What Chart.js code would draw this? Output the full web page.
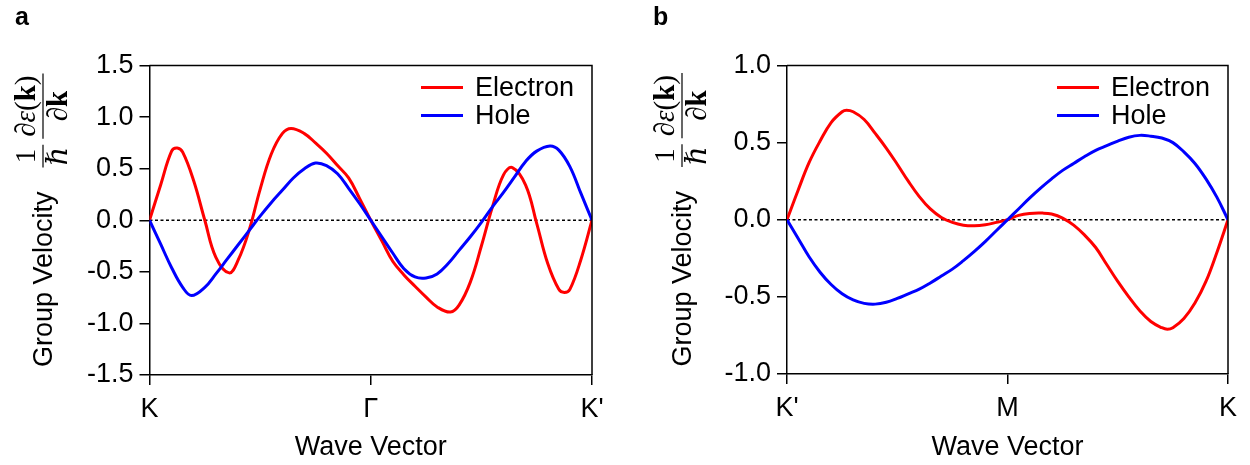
<!DOCTYPE html>
<html>
<head>
<meta charset="utf-8">
<script src="https://cdn.jsdelivr.net/npm/chart.js@4.4.1/dist/chart.umd.min.js"></script>
<style>
  html, body { margin: 0; padding: 0; background: #fff; }
  #wrap { position: relative; width: 1250px; height: 465px; }
  canvas { position: absolute; top: 0; }
  #panelA { left: 0; }
  #panelB { left: 625px; }
</style>
</head>
<body>
<div id="wrap">
  <canvas id="panelA" width="625" height="465"></canvas>
  <canvas id="panelB" width="625" height="465"></canvas>
</div>
<script>
// panel a: K - Gamma - K'  (x in units of path segments, 0..2)
var aTickLabels = ['K', 'Γ', "K'"];
var aElecK = [0, 0.05, 0.10, 0.125, 0.15, 0.20, 0.25, 0.30, 0.36, 0.40, 0.45, 0.50, 0.55, 0.60, 0.64, 0.70, 0.75, 0.80, 0.85, 0.90, 0.95, 1.00,
              1.05, 1.10, 1.15, 1.20, 1.25, 1.30, 1.36, 1.40, 1.45, 1.50, 1.55, 1.60, 1.64, 1.70, 1.75, 1.80, 1.85, 1.875, 1.90, 1.95, 2.00];
var aElecV = [0, 0.34, 0.67, 0.70, 0.66, 0.38, 0.0, -0.36, -0.51, -0.39, -0.10, 0.30, 0.64, 0.84, 0.89, 0.84, 0.75, 0.65, 0.53, 0.41, 0.21, 0,
              -0.20, -0.40, -0.53, -0.64, -0.745, -0.84, -0.89, -0.82, -0.60, -0.25, 0.13, 0.44, 0.51, 0.34, -0.03, -0.42, -0.67, -0.70, -0.67, -0.38, 0];
var aHoleK = [0, 0.05, 0.10, 0.15, 0.19, 0.25, 0.30, 0.35, 0.40, 0.45, 0.50, 0.55, 0.60, 0.65, 0.70, 0.75, 0.80, 0.85, 0.90, 0.95, 1.00,
              1.05, 1.10, 1.15, 1.20, 1.25, 1.30, 1.35, 1.40, 1.45, 1.50, 1.55, 1.60, 1.65, 1.70, 1.75, 1.81, 1.85, 1.90, 1.95, 2.00];
var aHoleV = [0, -0.23, -0.46, -0.65, -0.73, -0.65, -0.52, -0.38, -0.24, -0.10, 0.04, 0.17, 0.29, 0.41, 0.50, 0.555, 0.53, 0.45, 0.31, 0.16, 0,
              -0.16, -0.32, -0.47, -0.55, -0.56, -0.52, -0.42, -0.29, -0.16, -0.02, 0.13, 0.27, 0.42, 0.57, 0.67, 0.72, 0.68, 0.52, 0.26, 0];

// panel b: K' - M - K
var bTickLabels = ["K'", 'M', 'K'];
var bElecK = [0, 0.05, 0.10, 0.15, 0.20, 0.25, 0.27, 0.30, 0.35, 0.40, 0.45, 0.50, 0.55, 0.60, 0.65, 0.70, 0.75, 0.80, 0.85, 0.90, 0.95, 1.00,
              1.05, 1.10, 1.16, 1.20, 1.25, 1.30, 1.35, 1.40, 1.45, 1.50, 1.55, 1.60, 1.65, 1.70, 1.725, 1.75, 1.80, 1.85, 1.90, 1.95, 2.00];
var bElecV = [0, 0.19, 0.37, 0.51, 0.63, 0.70, 0.71, 0.70, 0.65, 0.56, 0.465, 0.36, 0.25, 0.15, 0.07, 0.015, -0.017, -0.035, -0.039, -0.032, -0.017, 0,
              0.028, 0.041, 0.043, 0.037, 0.011, -0.035, -0.10, -0.18, -0.29, -0.40, -0.50, -0.59, -0.66, -0.70, -0.71, -0.70, -0.64, -0.54, -0.40, -0.21, 0];
var bHoleK = [0, 0.05, 0.10, 0.15, 0.20, 0.25, 0.30, 0.35, 0.40, 0.45, 0.50, 0.55, 0.60, 0.65, 0.70, 0.75, 0.80, 0.85, 0.90, 0.95, 1.00,
              1.05, 1.10, 1.15, 1.20, 1.25, 1.30, 1.35, 1.40, 1.45, 1.50, 1.55, 1.60, 1.65, 1.70, 1.75, 1.80, 1.85, 1.90, 1.95, 2.00];
var bHoleV = [0, -0.12, -0.24, -0.34, -0.42, -0.48, -0.52, -0.542, -0.547, -0.535, -0.51, -0.48, -0.45, -0.41, -0.365, -0.32, -0.265, -0.205, -0.14, -0.07, 0,
              0.07, 0.14, 0.205, 0.265, 0.32, 0.365, 0.41, 0.45, 0.48, 0.51, 0.535, 0.547, 0.542, 0.53, 0.50, 0.44, 0.365, 0.265, 0.145, 0];

var SANS = '"Liberation Sans", Arial, Helvetica, sans-serif';
var SERIF = '"Liberation Serif", "DejaVu Serif", serif';

function pts(xs, ys) {
    return xs.map(function (x, i) { return { x: x, y: ys[i] }; });
}

// text around the plot: panel letter, rotated y title with the fraction, legend, box
var panelText = {
    id: 'panelText',
    afterDraw: function (chart, args, opts) {
        var ctx = chart.ctx, area = chart.chartArea;
        ctx.save();
        ctx.fillStyle = '#000';
        ctx.strokeStyle = '#000';

        // box top + right
        ctx.lineWidth = 1.5;
        ctx.beginPath();
        ctx.moveTo(area.left, area.top);
        ctx.lineTo(area.right, area.top);
        ctx.lineTo(area.right, area.bottom);
        ctx.stroke();

        // panel letter
        ctx.font = 'bold 25px ' + SANS;
        ctx.textAlign = 'left';
        ctx.textBaseline = 'alphabetic';
        ctx.fillText(opts.letter, opts.letterX, 25);

        // legend
        var rows = [area.top + 22, area.top + 50];
        [0, 1].forEach(function (i) {
            var ds = chart.data.datasets[i];
            ctx.strokeStyle = ds.borderColor;
            ctx.lineWidth = 3;
            ctx.beginPath();
            ctx.moveTo(area.right - 171, rows[i]);
            ctx.lineTo(area.right - 129, rows[i]);
            ctx.stroke();
            ctx.font = '27px ' + SANS;
            ctx.textBaseline = 'middle';
            ctx.fillText(ds.label, area.right - 117, rows[i] + 1);
        });

        // y title, rotated: "Group Velocity  1/hbar d eps(k)/dk"
        var reg = '29px ' + SERIF, ital = 'italic 29px ' + SERIF, bold = 'bold 29px ' + SERIF;
        var num1 = [['1', reg]], den1 = [['ℏ', ital]];
        var num2 = [['∂', reg], ['ε', ital], ['(', reg], ['k', bold], [')', reg]];
        var den2 = [['∂', reg], ['k', bold]];
        function w(parts) {
            var s = 0;
            parts.forEach(function (p) { ctx.font = p[1]; s += ctx.measureText(p[0]).width; });
            return s;
        }
        function run(parts, x, y) {
            parts.forEach(function (p) { ctx.font = p[1]; ctx.fillText(p[0], x, y); x += ctx.measureText(p[0]).width; });
        }
        ctx.strokeStyle = '#000';
        ctx.textBaseline = 'alphabetic';
        ctx.textAlign = 'left';
        ctx.font = '27px ' + SANS;
        var gv = 'Group Velocity';
        var wgv = ctx.measureText(gv).width;
        var f1 = Math.max(w(num1), w(den1)) + 4;
        var f2 = Math.max(w(num2), w(den2)) + 4;
        var gap1 = 24, gap2 = 6;
        var total = wgv + gap1 + f1 + gap2 + f2;
        ctx.translate(opts.titleX, (area.top + area.bottom) / 2);
        ctx.rotate(-Math.PI / 2);
        var u = -total / 2;
        ctx.font = '27px ' + SANS;
        ctx.fillText(gv, u, 9);
        u += wgv + gap1;
        [[num1, den1, f1], [num2, den2, f2]].forEach(function (fr) {
            ctx.lineWidth = 1.2;
            ctx.beginPath();
            ctx.moveTo(u, 0);
            ctx.lineTo(u + fr[2], 0);
            ctx.stroke();
            run(fr[0], u + (fr[2] - w(fr[0])) / 2, -8);
            run(fr[1], u + (fr[2] - w(fr[1])) / 2, 24);
            u += fr[2] + gap2;
        });
        ctx.restore();
    }
};

function makeChart(id, o) {
    var axisGrid = { drawOnChartArea: false, drawTicks: true, tickLength: 10, color: '#000', lineWidth: 1.5 };
    var axisBorder = { display: true, color: '#000', width: 1.5 };
    var tickFont = { size: 27, family: SANS };
    return new Chart(document.getElementById(id).getContext('2d'), {
        type: 'line',
        data: {
            datasets: [{
                label: 'Electron',
                data: pts(o.elecK, o.elecV),
                borderColor: '#ff0000',
                borderWidth: 3,
                pointRadius: 0,
                tension: 0.4,
                order: 1
            }, {
                label: 'Hole',
                data: pts(o.holeK, o.holeV),
                borderColor: '#0000ff',
                borderWidth: 3,
                pointRadius: 0,
                tension: 0.4,
                order: 0
            }, {
                label: 'zero',
                data: [{ x: 0, y: 0 }, { x: 2, y: 0 }],
                borderColor: '#000',
                borderWidth: 1.5,
                borderDash: [3, 2.5],
                pointRadius: 0,
                order: 2
            }]
        },
        options: {
            responsive: false,
            animation: false,
            events: [],
            layout: { padding: o.padding },
            plugins: {
                legend: { display: false },
                tooltip: { enabled: false },
                panelText: { letter: o.letter, letterX: o.letterX, titleX: o.titleX }
            },
            scales: {
                x: {
                    type: 'linear',
                    min: 0,
                    max: 2,
                    afterFit: function (s) { s.height = o.xHeight; },
                    ticks: {
                        stepSize: 1,
                        autoSkip: false,
                        maxRotation: 0,
                        padding: 8,
                        color: '#000',
                        font: tickFont,
                        callback: function (v) { return o.tickLabels[Math.round(v)]; }
                    },
                    grid: axisGrid,
                    border: axisBorder,
                    title: {
                        display: true,
                        text: 'Wave Vector',
                        color: '#000',
                        font: { size: 27, family: SANS },
                        padding: { top: 0, bottom: 1 }
                    }
                },
                y: {
                    min: o.yMin,
                    max: o.yMax,
                    afterFit: function (s) { s.width = o.yWidth; },
                    ticks: {
                        stepSize: 0.5,
                        padding: 6,
                        color: '#000',
                        font: tickFont,
                        callback: function (v) { return v.toFixed(1); }
                    },
                    grid: axisGrid,
                    border: axisBorder
                }
            }
        },
        plugins: [panelText]
    });
}

makeChart('panelA', {
    tickLabels: aTickLabels, elecK: aElecK, elecV: aElecV, holeK: aHoleK, holeV: aHoleV,
    yMin: -1.5, yMax: 1.5, yWidth: 149.5, xHeight: 90,
    padding: { left: 0, top: 65.5, right: 33, bottom: 0 },
    letter: 'a', letterX: 15, titleX: 43
});

makeChart('panelB', {
    tickLabels: bTickLabels, elecK: bElecK, elecV: bElecV, holeK: bHoleK, holeV: bHoleV,
    yMin: -1, yMax: 1, yWidth: 162, xHeight: 91,
    padding: { left: 0, top: 65.5, right: 22, bottom: 0 },
    letter: 'b', letterX: 28, titleX: 57
});
</script>
</body>
</html>
